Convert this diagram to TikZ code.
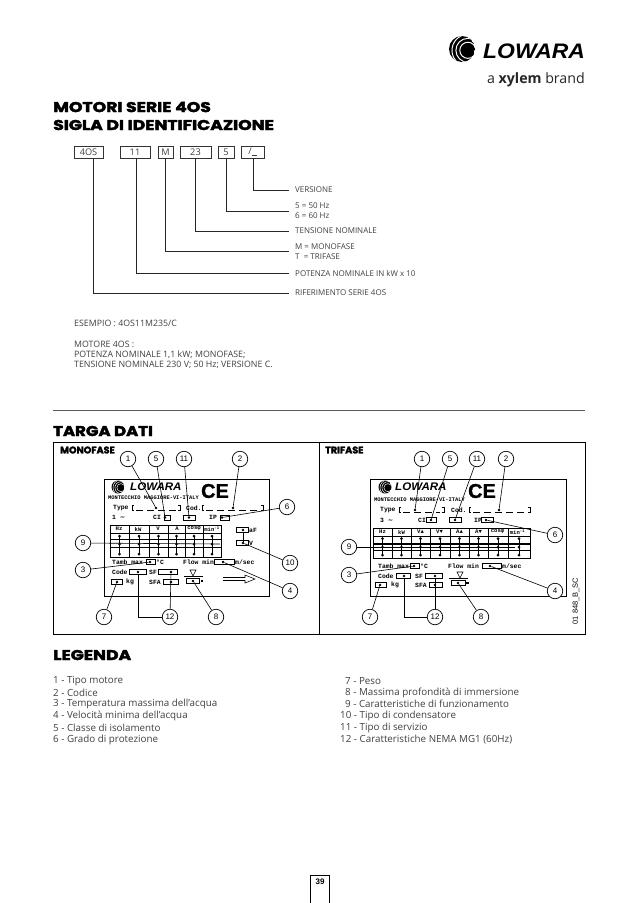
\documentclass[tikz,border=0pt]{standalone}
\usepackage{fontspec}
\setmainfont{Open Sans}
\newfontfamily\ttlfont[BoldFeatures={FakeBold=2.5}]{Poppins}
\newfontfamily\logofont[BoldFeatures={FakeBold=1}]{Liberation Sans}
\newfontfamily\platefont{Liberation Mono}
\newfontfamily\numfont{Liberation Sans}
\newfontfamily\symfont{DejaVu Sans}
\definecolor{txt}{HTML}{404040}
\newcounter{tn}
\tikzset{
  lead/.style={line width=0.6pt,black},
  topbox/.style={draw=black!80,line width=0.5pt,minimum height=12pt,inner sep=0pt,text=txt,font=\fontsize{9.2}{10}\selectfont},
  toplabel/.style={anchor=west,inner sep=0pt,text=txt,font=\fontsize{8}{9}\selectfont},
  examplelabel/.style={anchor=west,inner sep=0pt,text=txt,font=\fontsize{8.8}{10}\selectfont},
  toplead/.style={line width=0.6pt,black!85},
  title/.style={anchor=west,inner sep=0pt,xscale=1.21,font=\ttlfont\bfseries\fontsize{14.2}{16}\selectfont},
  subtitle/.style={anchor=west,inner sep=0pt,font=\ttlfont\bfseries\fontsize{9.6}{12}\selectfont},
  legend/.style={anchor=west,inner sep=0pt,text=txt,font=\fontsize{9.8}{11}\selectfont},
  callout/.style={circle,draw=black,line width=0.7pt,fill=white,minimum size=15.5pt,inner sep=0pt,font=\numfont\fontsize{8}{9}\selectfont},
  plate/.style={anchor=west,inner sep=0pt,font=\platefont\bfseries\fontsize{6.4}{7}\selectfont},
  slotline/.style={line width=0.6pt},
  dotmark/.style={circle,fill=black,inner sep=0pt,minimum size=2.6pt},
}
\newcommand{\ptxt}[3]{\stepcounter{tn}\node[plate] (p\thetn) at (#1,#2) {#3};}
\newcommand{\slotfield}[5]{%
  \draw[slotline] (#2,#4-2.5) rectangle (#3,#4+2.5);
  \node[dotmark] (#1) at (#5,#4) {};}
\newcommand{\longfield}[5]{%
  \draw[slotline] (#2+2,#4-2.5) -- (#2,#4-2.5) -- (#2,#4+2.5) -- (#2+2,#4+2.5);
  \draw[slotline] (#3-2,#4-2.5) -- (#3,#4-2.5) -- (#3,#4+2.5) -- (#3-2,#4+2.5);
  \draw[slotline,dash pattern=on 7pt off 4pt] (#2+4,#4+2.5) -- (#3-4,#4+2.5);
  \node[dotmark] (#1) at (#5,#4) {};}
% logo mark: black disc with white rings round a drop
\newcommand{\logomark}[3]{%
  \begin{scope}
    \clip (#1,#2) circle (#3);
    \fill[black] (#1,#2) circle (#3);
    \foreach \k in {0.62,0.92,1.22,1.52}{
      \draw[white,line width=0.075*#3 pt] (#1+#3*0.45,#2+#3*0.1) circle ({\k*#3});
    }
  \end{scope}}
\begin{document}
\begin{tikzpicture}[x=1pt,y=-1pt]
\useasboundingbox (0,0) rectangle (638,903);
\fill[white] (0,0) rectangle (638,903);

% brand
\logomark{462}{49}{13}
\node[anchor=west,inner sep=0pt,xscale=1.09] (brand) at (483,51) {\logofont\bfseries\itshape\fontsize{21}{22}\selectfont LOWARA};
\node[anchor=east,inner sep=0pt,text=black!85] (brandsub) at (585,80) {\fontsize{14.2}{16}\selectfont a \textbf{xylem} brand};

% titles
\node[title] (t1) at (53,107) {MOTORI SERIE 4OS};
\node[title] (t2) at (53,125) {SIGLA DI IDENTIFICAZIONE};

% code boxes
\node[topbox,minimum width=29pt] (b1) at (88.5,152) {4OS};
\node[topbox,minimum width=30pt] (b2) at (135,152) {11};
\node[topbox,minimum width=15pt] (b3) at (165.5,152) {M};
\node[topbox,minimum width=31pt] (b4) at (195.5,152) {23};
\node[topbox,minimum width=16pt] (b5) at (226,152) {5};
\node[topbox,minimum width=23pt] (b6) at (252.5,152) {/\rule[-1pt]{5pt}{0.4pt}};

% labels
\node[toplabel] (l1) at (295,190) {VERSIONE};
\node[toplabel] (l2) at (295,206) {5 = 50 Hz};
\node[toplabel] (l2b) at (295,216) {6 = 60 Hz};
\node[toplabel] (l3) at (295,231) {TENSIONE NOMINALE};
\node[toplabel] (l4) at (295,247) {M = MONOFASE};
\node[toplabel] (l4b) at (295,257) {T \ = TRIFASE};
\node[toplabel] (l5) at (295,273) {POTENZA NOMINALE IN kW x 10};
\node[toplabel] (l6) at (295,293) {RIFERIMENTO SERIE 4OS};
\coordinate (e1) at (289,190);
\coordinate (e2) at (289,211);
\coordinate (e3) at (289,231);
\coordinate (e4) at (289,251);
\coordinate (e5) at (289,273);
\coordinate (e6) at (289,293);
\draw[toplead] ([xshift=0.5pt]b6.south) |- (e1);
\draw[toplead] (b5.south) |- (e2);
\draw[toplead] (b4.south) |- (e3);
\draw[toplead] (b3.south) |- (e4);
\draw[toplead] ([xshift=1pt]b2.south) |- (e5);
\draw[toplead] ([xshift=4.5pt]b1.south) |- (e6);

% example
\node[examplelabel] (x1) at (74,323) {ESEMPIO : 4OS11M235/C};
\node[examplelabel] (x2) at (74,344) {MOTORE 4OS :};
\node[examplelabel] (x3) at (74,355) {POTENZA NOMINALE 1,1 kW; MONOFASE;};
\node[examplelabel] (x4) at (74,365) {TENSIONE NOMINALE 230 V; 50 Hz; VERSIONE C.};

\coordinate (r1) at (53,410);
\coordinate (r2) at (585,410);
\draw[line width=1pt,black!65] (r1) -- (r2);

\node[title,xscale=0.96] (t3) at (53,431) {TARGA DATI};
\node[subtitle] (t4) at (60,450) {MONOFASE};
\node[subtitle] (t5) at (325,450) {TRIFASE};

% panels
\draw[line width=0.8pt] (53,442) rectangle (585,634);
\draw[line width=0.8pt] (319,442) -- (319,634);
\draw[line width=0.7pt] (104,479) rectangle (269,596);
\draw[line width=0.7pt] (370,479) rectangle (566,596);

%%%% MONOFASE plate
\logomark{118}{487}{6.5}
\node[anchor=west,inner sep=0pt,xscale=1.05] (lm) at (130,487) {\logofont\bfseries\itshape\fontsize{11}{12}\selectfont LOWARA};
\node[inner sep=0pt] (cem) at (215,491) {\logofont\bfseries\fontsize{20}{21}\selectfont CE};
\node[plate,font=\platefont\bfseries\fontsize{5.4}{6}\selectfont] (mm) at (108,498) {MONTECCHIO MAGGIORE-VI-ITALY};
\ptxt{113}{508}{Type}
\longfield{m1}{132}{180}{508}{156}
\ptxt{186}{508}{Cod.}
\longfield{m2}{202}{263}{508}{233}
\ptxt{112}{517.5}{1 {\symfont\char"223C}}
\ptxt{153}{517.5}{CI}
\slotfield{m5}{164}{170}{517.5}{165}
\slotfield{m11}{183}{195}{517.5}{189}
\ptxt{209}{517.5}{IP}
\slotfield{m6}{220}{229}{517.5}{222}
% table
\draw[line width=0.8pt] (110,525) rectangle (221,557);
\draw[line width=0.8pt] (110,533) -- (221,533);
\foreach \a/\t in {110/Hz,129/kW,149/V,168/A,185/cos\char"03C6,203/min\textsuperscript{-1}}{
  \node[inner sep=0pt,font=\platefont\bfseries\fontsize{5.6}{6}\selectfont] at (\a+9,529) {\t};}
\foreach \x in {129,149,168,185,203}{\draw[line width=1pt] (\x,525) -- (\x,557);}
\foreach \y in {539.5,547.5}{\draw[line width=1.6pt] (110,\y) -- (221,\y);}
\foreach \x in {119.5,139,158.5,176.5,194,212}{
  \draw[line width=0.7pt] (\x,536) -- (\x,554);
  \foreach \y in {536,544,554}{\fill (\x,\y) circle (1.5);}
}
\coordinate (m9) at (220,544);
\slotfield{m10a}{236}{248}{530}{243}
\ptxt{249}{530}{aF}
\slotfield{m10}{236}{248}{543}{243}
\ptxt{249}{543}{V}
\draw[lead] (m10a) -- (m10);
\ptxt{112}{562}{Tamb max}
\slotfield{m3}{146}{155}{562}{150}
\ptxt{156}{562}{\char"00B0 C}
\ptxt{183}{562}{Flow min}
\slotfield{m4}{214}{234}{562}{223}
\ptxt{235}{562}{m/sec}
\ptxt{112}{572}{Code}
\slotfield{m12a}{129}{146}{572}{138}
\ptxt{149}{572}{SF}
\slotfield{m12b}{158}{177}{572}{171}
\slotfield{m7}{111}{122}{582}{117}
\ptxt{126}{582}{kg}
\ptxt{149}{582}{SFA}
\slotfield{m12c}{163}{178}{582}{171}
\draw[line width=0.55pt] (190,570) -- (196,570) -- (193,576) -- cycle;
\draw[line width=0.7pt] (184,576) -- (203,576);
\slotfield{m8}{186}{199}{581}{193}
\fill (200.5,579.5) rectangle (203,582);
\draw[line width=0.55pt] (223,577.5) -- (245,577.5) -- (245,575) -- (255,579) -- (245,583) -- (245,580.5) -- (223,580.5);

% MONOFASE callouts
\node[callout] (c1) at (128,459) {1};
\node[callout] (c5) at (156,459) {5};
\node[callout] (c11) at (184,459) {11};
\node[callout] (c2) at (240,459) {2};
\node[callout] (c6) at (287,507) {6};
\node[callout] (c9) at (83,543) {9};
\node[callout] (c10) at (290,563) {10};
\node[callout] (c3) at (83,570) {3};
\node[callout] (c4) at (290,591) {4};
\node[callout] (c7) at (104,617) {7};
\node[callout] (c12) at (170,617) {12};
\node[callout] (c8) at (216,617) {8};
\draw[lead] (c1) -- (m1);
\draw[lead] (c5) -- (m5);
\draw[lead] (c11) -- (m11);
\draw[lead] (c2) -- (m2);
\draw[lead] (c6) -- (m6);
\draw[lead] (c9) -- (m9);
\draw[lead] (c10) -- (m10);
\draw[lead] (c3) -- (m3);
\draw[lead] (c4) -- (m4);
\draw[lead] (c7) -- (m7);
\draw[lead] (c8) -- (m8);
\draw[lead] (c12) -| (m12a);
\draw[lead] (c12) -- (m12b);

%%%% TRIFASE plate
\logomark{385}{487}{6.5}
\node[anchor=west,inner sep=0pt,xscale=1.05] (lt) at (395,487) {\logofont\bfseries\itshape\fontsize{11}{12}\selectfont LOWARA};
\node[inner sep=0pt] (cet) at (482,491) {\logofont\bfseries\fontsize{20}{21}\selectfont CE};
\node[plate,font=\platefont\bfseries\fontsize{5.4}{6}\selectfont] (mt) at (374,500) {MONTECCHIO MAGGIORE-VI-ITALY};
\ptxt{380}{510}{Type}
\longfield{t1f}{399}{444}{510}{415}
\ptxt{451}{510}{Cod.}
\longfield{t2f}{469}{530}{510}{499}
\ptxt{380}{520}{3 {\symfont\char"223C}}
\ptxt{418}{520}{CI}
\slotfield{t5f}{426}{436}{520}{431}
\slotfield{t11f}{449}{461}{520}{455}
\ptxt{474}{520}{IP}
\slotfield{t6f}{481}{493}{520}{486}
% table
\draw[line width=0.8pt] (373,528) rectangle (530,558);
\draw[line width=0.8pt] (373,536) -- (530,536);
\foreach \a/\t in {373/Hz,392/kW,411/V\char"25B2,430/V\char"25BC,450/A\char"25B2,469/A\char"25BC,488/cos\char"03C6,508/min\textsuperscript{-1}}{
  \node[inner sep=0pt,font=\platefont\bfseries\fontsize{5.6}{6}\selectfont] at (\a+9.5,532) {\t};}
\foreach \x in {392,411,430,450,469,488,508}{\draw[line width=1pt] (\x,528) -- (\x,558);}
\foreach \y in {544,550.5}{\draw[line width=1.3pt] (373,\y) -- (530,\y);}
\foreach \x in {382.5,401.5,420.5,440,459.5,478.5,498,519}{
  \draw[line width=0.7pt] (\x,538.5) -- (\x,555);
  \foreach \y in {538.5,547,555}{\fill (\x,\y) circle (1.5);}
}
\coordinate (t9) at (515,547);
\ptxt{378}{566}{Tamb max}
\slotfield{t3f}{410}{419}{566}{414}
\ptxt{420}{566}{\char"00B0 C}
\ptxt{448}{566}{Flow min}
\slotfield{t4f}{482}{501}{566}{490}
\ptxt{502}{566}{m/sec}
\ptxt{378}{576}{Code}
\slotfield{t12a}{396}{410}{576}{404}
\ptxt{415}{576}{SF}
\slotfield{t12b}{425}{442}{576}{435}
\slotfield{t7f}{375}{386}{585}{380}
\ptxt{391}{585}{kg}
\ptxt{415}{585}{SFA}
\slotfield{t12c}{429}{442}{585}{435}
\draw[line width=0.55pt] (457,572) -- (463,572) -- (460,578) -- cycle;
\draw[line width=0.7pt] (449,578) -- (468,578);
\slotfield{t8f}{451}{465}{583}{458}
\fill (466,581.5) rectangle (468.5,584);
\node[rotate=90,inner sep=0pt,font=\numfont\fontsize{7.5}{8}\selectfont] (code) at (576,601) {01 848\_B\_SC};

% TRIFASE callouts
\node[callout] (d1) at (422,459) {1};
\node[callout] (d5) at (450,459) {5};
\node[callout] (d11) at (477,459) {11};
\node[callout] (d2) at (506,459) {2};
\node[callout] (d6) at (555,535) {6};
\node[callout] (d9) at (349,547) {9};
\node[callout] (d3) at (349,575) {3};
\node[callout] (d4) at (555,591) {4};
\node[callout] (d7) at (370,617) {7};
\node[callout] (d12) at (435,617) {12};
\node[callout] (d8) at (481,617) {8};
\draw[lead] (d1) -- (t1f);
\draw[lead] (d5) -- (t5f);
\draw[lead] (d11) -- (t11f);
\draw[lead] (d2) -- (t2f);
\draw[lead] (d6) -- (t6f);
\draw[lead] (d9) -- (t9);
\draw[lead] (d3) -- (t3f);
\draw[lead] (d4) -- (t4f);
\draw[lead] (d7) -- (t7f);
\draw[lead] (d8) -- (t8f);
\draw[lead] (d12) -| (t12a);
\draw[lead] (d12) -- (t12b);

% legend
\node[title] (t6) at (53,655) {LEGENDA};
\node[legend] (a1) at (53,681) {1 - Tipo motore};
\node[legend] (a2) at (53,692.5) {2 - Codice};
\node[legend] (a3) at (53,704) {3 - Temperatura massima dell'acqua};
\node[legend] (a4) at (53,716) {4 - Velocità minima dell'acqua};
\node[legend] (a5) at (53,727.5) {5 - Classe di isolamento};
\node[legend] (a6) at (53,739.5) {6 - Grado di protezione};
\node[legend] (a7) at (345,681) {7 - Peso};
\node[legend] (a8) at (345,692.5) {8 - Massima profondità di immersione};
\node[legend] (a9) at (345,704) {9 - Caratteristiche di funzionamento};
\node[legend] (a10) at (340,716) {10 - Tipo di condensatore};
\node[legend] (a11) at (340,727.5) {11 - Tipo di servizio};
\node[legend] (a12) at (340,739.5) {12 - Caratteristiche NEMA MG1 (60Hz)};

% page number
\draw[line width=0.6pt] (310,903) -- (310,875) -- (329,875) -- (329,903);
\node[inner sep=0pt,font=\numfont\bfseries\fontsize{8}{9}\selectfont] (pg) at (320,882) {39};
\end{tikzpicture}
\end{document}
